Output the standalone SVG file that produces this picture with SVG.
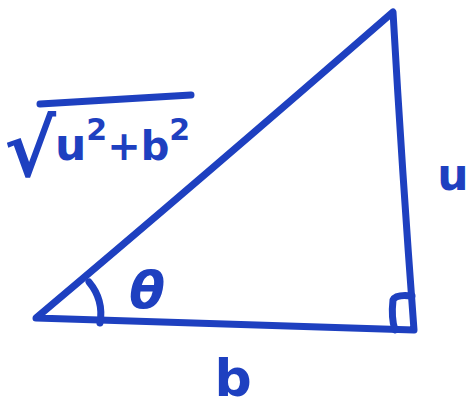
<svg xmlns="http://www.w3.org/2000/svg" width="472" height="411" viewBox="0 0 472 411">
<style>
.s{fill:none;stroke:#1e40c0;stroke-width:7;stroke-linecap:round;stroke-linejoin:round}
.t{fill:#1e40c0;font-family:"DejaVu Sans",sans-serif;font-weight:bold}
</style>
<rect width="472" height="411" fill="#ffffff"/>
<g id="triangle">
<path class="s" d="M36,318 Q200,180 393,12 Q402,170 414,330 Q230,325 36,318 Z"/>
</g>
<g id="right-angle">
<path class="s" d="M412,296 Q396,294 393,300 Q391,318 395,330"/>
</g>
<g id="angle-arc">
<path class="s" d="M89,282 Q104,300 100,323"/>
</g>
<g id="label-theta"><text class="t" x="147" y="308" font-size="52" font-style="italic" text-anchor="middle">θ</text></g>
<g id="label-u"><text class="t" x="453" y="190" font-size="44" text-anchor="middle">u</text></g>
<g id="label-b"><text class="t" x="233" y="396" font-size="52" text-anchor="middle">b</text></g>
<g id="label-hyp">
<text class="t" x="4" y="176" font-size="78" font-weight="normal">√</text>
<line class="s" x1="40" y1="104" x2="191" y2="95"/>
<text class="t" x="55" y="160" font-size="44">u<tspan font-size="30" dy="-20">2</tspan><tspan font-size="40" dy="20">+b</tspan><tspan font-size="30" dy="-20">2</tspan></text>
</g>
</svg>
